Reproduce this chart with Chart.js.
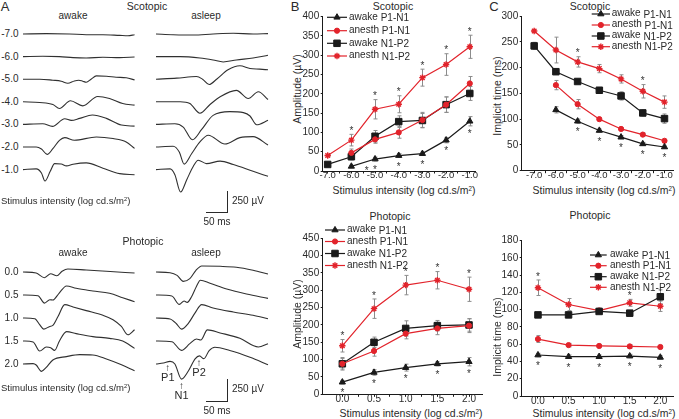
<!DOCTYPE html>
<html>
<head>
<meta charset="utf-8">
<script src="https://cdn.jsdelivr.net/npm/chart.js"></script>
<style>
  body { margin: 0; background: #fff; }
  #fig { position: relative; width: 679px; height: 419px; overflow: hidden; font-family: "Liberation Sans", Arial, sans-serif; color: #2a2a2a; }
  #fig canvas { position: absolute; }
  .t { position: absolute; white-space: nowrap; line-height: 1; }
  .t sup { font-size: 60%; line-height: 0; vertical-align: 0.5em; }
  .bar { position: absolute; background: #2a2a2a; }
</style>
</head>
<body>
<div id="fig"></div>
<script>
// ---------- panel A: ERG traces, [time (ms), amplitude (µV)]
const scotLevels = ['-7.0', '-6.0', '-5.0', '-4.0', '-3.0', '-2.0', '-1.0'];
const photLevels = ['0.0', '0.5', '1.0', '1.5', '2.0'];

const scotAwake = [
    [[0,0],[53,4],[106,0],[144,-8],[182,-8],[220,-16],[239,-20],[254,-8]],
    [[0,0],[45,4],[83,0],[114,-12],[144,-16],[182,-8],[220,-12],[254,-4]],
    [[0,0],[38,0],[68,-12],[87,-23],[102,-47],[117,-20],[127,-12],[136,-23],[144,-35],[155,0],[167,39],[190,35],[212,23],[235,16],[254,-8]],
    [[0,0],[38,-8],[68,-31],[83,-78],[108,12],[136,-47],[170,62],[197,39],[227,-20],[254,-39]],
    [[0,0],[45,8],[67,-23],[95,66],[110,47],[129,70],[158,109],[190,70],[224,-8],[254,-20]],
    [[0,0],[30,0],[42,-23],[55,-86],[68,-20],[83,78],[95,109],[117,78],[167,117],[205,98],[235,59],[254,-16]],
    [[0,0],[30,8],[42,-39],[50,-133],[62,-20],[72,70],[87,66],[99,43],[114,62],[144,78],[182,16],[220,-47],[254,-59]]
];
const scotAsleep = [
    [[0,0],[39,-8],[85,-12],[130,0],[176,8],[221,0],[255,4]],
    [[0,0],[55,0],[100,-16],[130,-39],[153,-62],[183,-39],[221,-16],[255,16]],
    [[0,0],[47,12],[92,31],[106,0],[121,-62],[138,0],[164,109],[191,156],[214,125],[236,117],[255,109]],
    [[0,0],[55,0],[77,-20],[100,-133],[123,-31],[146,59],[183,133],[210,39],[233,117],[255,27]],
    [[0,0],[43,8],[62,-31],[83,-179],[104,-59],[130,105],[168,148],[199,137],[214,98],[229,-4],[255,47]],
    [[0,0],[39,8],[53,-59],[64,-199],[81,-78],[100,59],[119,137],[157,35],[191,109],[221,121],[255,23]],
    [[0,0],[32,8],[43,-59],[56,-261],[70,-117],[85,39],[96,109],[115,70],[146,98],[176,59],[221,-20],[255,-78]]
];
const photAwake = [
    [[0,0],[30,-12],[49,-66],[63,-20],[77,-43],[89,8],[102,35],[144,23],[190,8],[254,-12]],
    [[0,0],[34,-8],[49,-94],[61,-55],[68,-59],[82,20],[99,105],[121,78],[159,47],[197,20],[227,-31],[254,-78]],
    [[0,0],[27,-8],[38,-78],[47,-129],[61,-98],[68,-86],[80,20],[95,156],[114,129],[144,86],[182,31],[205,-20],[224,-98],[239,-195],[254,-137]],
    [[0,0],[23,-12],[38,-117],[53,-70],[63,-78],[72,-109],[83,0],[99,109],[121,86],[159,51],[197,31],[227,0],[254,-86]],
    [[0,0],[23,4],[30,-12],[42,-86],[53,-39],[68,47],[99,86],[129,109],[159,105],[190,59],[220,0],[254,-78]]
];
const photAsleep = [
    [[0,0],[32,-8],[48,-39],[62,-109],[77,-78],[91,20],[104,70],[146,66],[183,55],[221,20],[255,-23]],
    [[0,0],[36,-12],[53,-109],[64,-70],[71,-86],[81,-20],[92,98],[101,172],[123,137],[161,70],[206,12],[255,-39]],
    [[0,0],[32,-12],[47,-70],[58,-129],[74,-59],[89,59],[104,156],[130,117],[176,70],[221,31],[255,-8]],
    [[0,0],[36,-8],[58,-109],[77,-31],[92,23],[102,12],[117,129],[146,94],[191,31],[233,-70],[255,-31]],
    [[0,0],[17,12],[32,31],[43,0],[58,-176],[74,-78],[89,59],[99,94],[109,62],[121,156],[134,195],[168,156],[214,78],[255,-8]]
];
// P1 / N1 / P2 marks on the 2.0 asleep trace (ms)
const peakNames = ['P1', 'N1', 'P2'];
const peakTimes = [27, 58, 98];

// ---------- panels B and C
const seriesNames = [['awake', 'P1-N1'], ['anesth', 'P1-N1'], ['awake', 'N1-P2'], ['anesth', 'N1-P2']];
const scotX = [-7, -6, -5, -4, -3, -2, -1];
const photX = [0, 0.5, 1, 1.5, 2];

// B, scotopic amplitude (µV)
const ampScot = [
    [null, 12, 31, 40, 45, 80, 129],
    [null, 47, 82, 100, 132, 172, 227],
    [17, 37, 90, 128, 131, 172, 201],
    [40, 80, 160, 173, 242, 276, 322]
];
const ampScotErr = [
    [null, 3, 5, 5, 4, 7, 12],
    [null, 10, 10, 15, 20, 20, 18],
    [3, 8, 15, 15, 18, 20, 18],
    [3, 15, 25, 22, 22, 28, 30]
];
const ampScotSigUp = [-6, -5, -4, -3, -2, -1];
const ampScotSigDown = [-5, -4, -3, -2, -1];
const ampScotSigLoose = [[-5.35, 7]];

// B, photopic amplitude (µV)
const ampPhot = [
    [35, 63, 77, 88, 94],
    [88, 125, 175, 190, 198],
    [88, 150, 190, 198, 200],
    [140, 247, 315, 329, 303]
];
const ampPhotErr = [
    [5, 8, 10, 6, 12],
    [15, 15, 15, 18, 20],
    [18, 15, 22, 15, 18],
    [18, 28, 28, 25, 35]
];
const ampPhotSigUp = [0, 0.5, 1, 1.5, 2];
const ampPhotSigDown = [0, 0.5, 1, 1.5, 2];

// C, scotopic implicit time (ms)
const impScot = [
    [null, 118, 96, 78, 65, 52, 46],
    [null, 166, 129, 100, 81, 70, 58],
    [242, 192, 173, 156, 145, 112, 101],
    [271, 234, 211, 198, 178, 154, 133]
];
const impScotErr = [
    [null, 6, 4, 3, 3, 3, 3],
    [null, 9, 9, 3, 3, 3, 3],
    [7, 5, 3, 3, 8, 6, 9],
    [2, 25, 10, 8, 8, 13, 12]
];
const impScotSigUp = [-5, -2];
const impScotSigDown = [-5, -4, -3, -2, -1];

// C, photopic implicit time (ms)
const impPhot = [
    [47.5, 45.6, 45.6, 46.3, 44.8],
    [66, 59, 58, 57.5, 56.8],
    [94, 94, 98, 96, 115],
    [125.5, 106, 99, 108, 104]
];
const impPhotErr = [
    [2, 2, 2, 2, 2],
    [4, 2, 2, 2, 2],
    [2, 2, 2, 2, 8],
    [9, 7, 3, 4, 6]
];
const impPhotSigUp = [0, 1.5];
const impPhotSigDown = [0, 0.5, 1, 1.5, 2];

// ---------- drawing
const FONT = '"Liberation Sans", Arial, sans-serif';
const RED = '#e2232b';
const INK = '#1a1a1a';
const TEXT = '#2a2a2a';
const styles = [
    { color: INK, point: 'triangle', r: 3.6, bw: 1 },
    { color: RED, point: 'circle', r: 2.6, bw: 1 },
    { color: INK, point: 'rect', r: 4.6, bw: 1 },
    { color: RED, point: 'star', r: 3.2, bw: 1.4 }
];
const fig = document.getElementById('fig');

function label(html, x, y, size, align, rotate) {
    const d = document.createElement('div');
    d.className = 't';
    d.innerHTML = html;
    d.style.fontSize = size + 'px';
    d.style.left = x + 'px';
    d.style.top = y + 'px';
    const tx = align === 'left' ? '0' : align === 'right' ? '-100%' : '-50%';
    d.style.transform = 'translate(' + tx + ', -50%)' + (rotate ? ' rotate(' + rotate + 'deg)' : '');
    fig.appendChild(d);
}
function bar(x, y, w, h) {
    const d = document.createElement('div');
    d.className = 'bar';
    d.style.left = x + 'px'; d.style.top = y + 'px';
    d.style.width = w + 'px'; d.style.height = h + 'px';
    fig.appendChild(d);
}
function addCanvas(x, y, w, h) {
    const cv = document.createElement('canvas');
    cv.width = w; cv.height = h;
    cv.style.left = x + 'px'; cv.style.top = y + 'px';
    fig.appendChild(cv);
    return cv;
}

// trace block: one chart per column, rows shifted down by a fixed gap
const PX_PER_UV = 21.5 / 250;
const PX_PER_MS = 112 / 255;
function traceChart(traces, x0, firstBase, rowGap, top, bottom, marks) {
    const margin = 4;
    const w = Math.round(112 + 2 * margin), h = bottom - top;
    const cv = addCanvas(x0 - margin, top, w, h);
    const yMax = (firstBase - top) / PX_PER_UV;
    const xMin = -margin / PX_PER_MS;
    new Chart(cv, {
        type: 'line',
        data: {
            datasets: traces.map((tr, i) => ({
                data: tr.map(([t, v]) => ({ x: t, y: v - i * rowGap / PX_PER_UV })),
                borderColor: '#303030',
                borderWidth: 1.1,
                pointRadius: 0,
                cubicInterpolationMode: 'monotone',
                clip: false
            }))
        },
        options: {
            responsive: false, animation: false, devicePixelRatio: 1,
            layout: { padding: 0 },
            plugins: { legend: { display: false }, tooltip: { enabled: false } },
            scales: {
                x: { type: 'linear', display: false, min: xMin, max: xMin + w / PX_PER_MS },
                y: { display: false, min: yMax - h / PX_PER_UV, max: yMax }
            }
        }
    });
    if (marks) {
        const last = traces.length - 1;
        const tr = traces[last];
        marks.forEach(([name, t]) => {
            const px = x0 + t * PX_PER_MS;
            let v = tr[0][1];
            tr.forEach(([tt, vv]) => { if (Math.abs(tt - t) < 6) v = vv; });
            const py = firstBase + last * rowGap - v * PX_PER_UV;
            label('&#8593;', px, py + 7, 10, 'center');
            label(name, px, py + 16, 11, 'center');
        });
    }
}

function drawMarker(ctx, s, x, y) {
    ctx.save();
    ctx.fillStyle = s.color; ctx.strokeStyle = s.color; ctx.lineWidth = s.bw;
    if (Chart.helpers && Chart.helpers.drawPoint) {
        Chart.helpers.drawPoint(ctx, { pointStyle: s.point, radius: s.r, rotation: 0, borderWidth: s.bw }, x, y);
    } else {
        ctx.beginPath(); ctx.arc(x, y, s.r, 0, Math.PI * 2); ctx.fill();
    }
    ctx.restore();
}

function plotPanel(o) {
    const [bx, by, bw, bh] = o.box;
    const cv = addCanvas(bx, by, bw, bh);
    const ticks = [];
    for (let v = o.tickFrom; v <= o.tickTo + 1e-9; v += o.tickStep) ticks.push(+v.toFixed(3));
    const isMajor = v => Math.abs(v / o.labelStep - Math.round(v / o.labelStep)) < 1e-6;
    const datasets = o.series.map((vals, si) => ({
        data: o.xs.map((x, i) => ({ x, y: vals[i] })).filter(p => p.y !== null),
        borderColor: styles[si].color,
        backgroundColor: styles[si].color,
        pointStyle: styles[si].point,
        pointRadius: styles[si].r,
        pointBorderWidth: styles[si].bw,
        borderWidth: 1.2,
        tension: 0,
        clip: false
    }));
    const tickFont = { family: FONT, size: 10, lineHeight: 1 };
    const extras = {
        id: 'extras',
        beforeDatasetsDraw(chart) {
            const ctx = chart.ctx, xs = chart.scales.x, ys = chart.scales.y;
            ctx.save();
            ctx.strokeStyle = '#8c8c8c'; ctx.lineWidth = 1;
            o.series.forEach((vals, si) => vals.forEach((v, i) => {
                const e = o.errs[si][i];
                if (v === null || !e) return;
                const px = Math.round(xs.getPixelForValue(o.xs[i])) + 0.5;
                const y1 = ys.getPixelForValue(v + e), y2 = ys.getPixelForValue(v - e);
                ctx.beginPath();
                ctx.moveTo(px, y1); ctx.lineTo(px, y2);
                ctx.moveTo(px - 2, y1); ctx.lineTo(px + 2, y1);
                ctx.moveTo(px - 2, y2); ctx.lineTo(px + 2, y2);
                ctx.stroke();
            }));
            ctx.restore();
        },
        afterDatasetsDraw(chart) {
            const ctx = chart.ctx, xs = chart.scales.x, ys = chart.scales.y;
            ctx.save();
            ctx.fillStyle = '#333'; ctx.font = '10px ' + FONT;
            ctx.textAlign = 'center'; ctx.textBaseline = 'alphabetic';
            const star = (px, cy) => ctx.fillText('*', px, cy + 5.7);
            o.sigUp.forEach(x => {
                const i = o.xs.indexOf(x), v = o.series[3][i], e = o.errs[3][i] || 0;
                const top = Math.min(ys.getPixelForValue(v + e), ys.getPixelForValue(v) - styles[3].r);
                star(xs.getPixelForValue(x), top - 6);
            });
            o.sigDown.forEach(x => {
                const i = o.xs.indexOf(x), v = o.series[0][i], e = o.errs[0][i] || 0;
                const bot = Math.max(ys.getPixelForValue(v - e), ys.getPixelForValue(v) + styles[0].r);
                star(xs.getPixelForValue(x), bot + 5);
            });
            (o.sigLoose || []).forEach(([x, v]) => star(xs.getPixelForValue(x), ys.getPixelForValue(v)));
            ctx.restore();
        },
        afterDraw(chart) {
            const ctx = chart.ctx, L = o.legend;
            ctx.save();
            L.rows.forEach((ry, si) => {
                const y = ry - by, s = styles[si];
                ctx.strokeStyle = s.color; ctx.lineWidth = 1.2;
                ctx.beginPath();
                ctx.moveTo(L.x0 - bx, y); ctx.lineTo(L.x1 - bx, y);
                ctx.stroke();
                drawMarker(ctx, s, (L.x0 + L.x1) / 2 - bx, y);
                ctx.fillStyle = TEXT; ctx.font = '10px ' + FONT;
                ctx.textAlign = 'left'; ctx.textBaseline = 'middle';
                ctx.fillText(seriesNames[si][0], L.tx - bx, y - 0.5);
                const w = ctx.measureText(seriesNames[si][0] + ' ').width;
                ctx.fillText(seriesNames[si][1], L.tx - bx + w, y + 1);
            });
            ctx.restore();
        }
    };
    new Chart(cv, {
        type: 'line',
        data: { datasets },
        options: {
            responsive: false, animation: false, devicePixelRatio: 1,
            layout: { padding: { left: 0, top: o.area[1] - by, right: bx + bw - o.area[2], bottom: 0 } },
            plugins: { legend: { display: false }, tooltip: { enabled: false } },
            scales: {
                x: {
                    type: 'linear', min: o.xMin, max: o.xMax,
                    afterBuildTicks: s => { s.ticks = ticks.map(v => ({ value: v })); },
                    afterFit: s => { s.height = by + bh - o.area[3]; s.paddingLeft = 0; s.paddingRight = 0; },
                    ticks: {
                        autoSkip: false, maxRotation: 0, padding: -2.5, color: TEXT,
                        font: { family: FONT, size: o.xFont || 10, lineHeight: 1 },
                        callback: v => isMajor(v) ? v.toFixed(1) : ''
                    },
                    grid: { drawOnChartArea: false, drawTicks: true, tickLength: 2.5, tickColor: INK },
                    border: { color: INK, width: 1 }
                },
                y: {
                    min: 0, max: o.yMax,
                    afterFit: s => { s.width = o.area[0] - bx; s.paddingTop = 0; s.paddingBottom = 0; },
                    ticks: { stepSize: o.yStep, padding: 1.5, color: TEXT, font: tickFont },
                    grid: { drawOnChartArea: false, drawTicks: true, tickLength: 2, tickColor: INK },
                    border: { color: INK, width: 1 }
                }
            }
        },
        plugins: [extras]
    });
}

// ---------- panel A
label('A', 5, 6, 13, 'center');
label('Scotopic', 147, 5.5, 10.5, 'center');
label('awake', 73, 16, 10, 'center');
label('asleep', 206, 16, 10, 'center');
const scotBase = 34, scotGap = 22.6;
scotLevels.forEach((t, i) => label(t, 18.5, scotBase + i * scotGap, 10, 'right'));
traceChart(scotAwake, 23.3, scotBase, scotGap, 20, 200);
traceChart(scotAsleep, 156, scotBase, scotGap, 20, 200);
label('Stimulus intensity (log cd.s/m<sup>2</sup>)', 1, 201, 9.5, 'left');
bar(227, 190.5, 1, 22); bar(206, 211.5, 22, 1);
label('250 µV', 232, 201, 10, 'left');
label('50 ms', 217, 221.5, 10, 'center');

label('Photopic', 143, 241, 10.5, 'center');
label('awake', 73, 253, 10, 'center');
label('asleep', 206, 253, 10, 'center');
const photBase = 272, photGap = 23;
photLevels.forEach((t, i) => label(t, 18.5, photBase + i * photGap, 10, 'right'));
traceChart(photAwake, 23.3, photBase, photGap, 258, 405);
traceChart(photAsleep, 156, photBase, photGap, 258, 405,
    peakNames.map((n, k) => [n, peakTimes[k]]));
label('Stimulus intensity (log cd.s/m<sup>2</sup>)', 1, 388, 9.5, 'left');
bar(227, 379, 1, 23); bar(206, 401, 22, 1);
label('250 µV', 232, 389, 10, 'left');
label('50 ms', 217, 410.5, 10, 'center');

// ---------- panel B
label('B', 295, 6, 13, 'center');
label('Scotopic', 393, 5.5, 10.5, 'center');
label('Amplitude (µV)', 297, 89, 10.5, 'center', -90);
label('Stimulus intensity (log cd.s/m<sup>2</sup>)', 404, 190, 10.5, 'center');
plotPanel({
    box: [296, 0, 189, 186], area: [322.7, 16.7, 475, 171],
    xs: scotX, series: ampScot, errs: ampScotErr,
    sigUp: ampScotSigUp, sigDown: ampScotSigDown, sigLoose: ampScotSigLoose,
    xMin: -7.21, xMax: -0.78, tickFrom: -7, tickTo: -1, tickStep: 0.5, labelStep: 1, xFont: 9.5,
    yMax: 400, yStep: 50,
    legend: { x0: 327, x1: 347, tx: 349, rows: [17.3, 30.7, 43.3, 56] }
});
label('Photopic', 390, 216, 10.5, 'center');
label('Amplitude (µV)', 297, 314, 10.5, 'center', -90);
label('Stimulus intensity (log cd.s/m<sup>2</sup>)', 411, 413, 10.5, 'center');
plotPanel({
    box: [296, 205, 194, 202], area: [322.7, 238.3, 482, 394.3],
    xs: photX, series: ampPhot, errs: ampPhotErr,
    sigUp: ampPhotSigUp, sigDown: ampPhotSigDown,
    xMin: -0.31, xMax: 2.205, tickFrom: 0, tickTo: 2, tickStep: 0.25, labelStep: 0.5,
    yMax: 450, yStep: 50,
    legend: { x0: 325, x1: 345, tx: 347, rows: [230, 241.5, 253.5, 265.5] }
});

// ---------- panel C
label('C', 494, 6, 13, 'center');
label('Scotopic', 590, 5.5, 10.5, 'center');
label('Implicit time (ms)', 497, 96, 10.5, 'center', -90);
label('Stimulus intensity (log cd.s/m<sup>2</sup>)', 604, 190, 10.5, 'center');
plotPanel({
    box: [500, 0, 179, 186], area: [521.7, 16, 675, 170.7],
    xs: scotX, series: impScot, errs: impScotErr,
    sigUp: impScotSigUp, sigDown: impScotSigDown,
    xMin: -7.574, xMax: -0.59, tickFrom: -7, tickTo: -1, tickStep: 0.5, labelStep: 1, xFont: 9.5,
    yMax: 300, yStep: 50,
    legend: { x0: 591.7, x1: 610, tx: 611.7, rows: [14, 25, 36, 46.7] }
});
label('Photopic', 590, 215, 10.5, 'center');
label('Implicit time (ms)', 497, 337, 10.5, 'center', -90);
label('Stimulus intensity (log cd.s/m<sup>2</sup>)', 604, 413, 10.5, 'center');
plotPanel({
    box: [500, 205, 179, 202], area: [521.7, 240.7, 676.7, 396],
    xs: photX, series: impPhot, errs: impPhotErr,
    sigUp: impPhotSigUp, sigDown: impPhotSigDown,
    xMin: -0.266, xMax: 2.214, tickFrom: 0, tickTo: 2, tickStep: 0.25, labelStep: 0.5,
    yMax: 180, yStep: 20,
    legend: { x0: 590, x1: 606.7, tx: 610, rows: [255, 265.7, 276.7, 287.3] }
});
</script>
</body>
</html>
